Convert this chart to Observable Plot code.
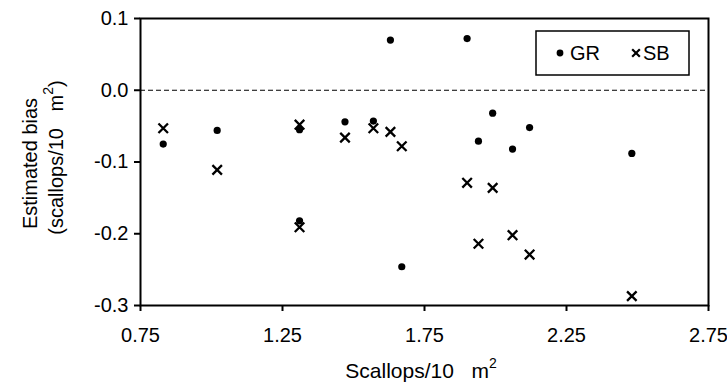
<!DOCTYPE html>
<html>
<head>
<meta charset="utf-8">
<script src="https://cdn.jsdelivr.net/npm/d3@7"></script>
<script src="https://cdn.jsdelivr.net/npm/@observablehq/plot@0.6"></script>
<style>
  html, body { margin: 0; padding: 0; background: #fff; }
  #chart svg text { white-space: pre; }
</style>
</head>
<body>
<div id="chart"></div>
<script>
// Scallop density (scallops / 10 m^2)
const density = [0.83, 1.02, 1.31, 1.31, 1.47, 1.57, 1.63, 1.67, 1.90, 1.94, 1.99, 2.06, 2.12, 2.48];
// Estimated bias, GR series
const grBias = [-0.075, -0.056, -0.055, -0.182, -0.044, -0.043, 0.070, -0.246, 0.072, -0.071, -0.032, -0.082, -0.052, -0.088];
// Estimated bias, SB series
const sbBias = [-0.053, -0.111, -0.048, -0.191, -0.066, -0.053, -0.058, -0.078, -0.129, -0.214, -0.136, -0.202, -0.229, -0.287];
// Tick labels
const xTicks = [0.75, 1.25, 1.75, 2.25, 2.75];
const yTicks = [-0.3, -0.2, -0.1, 0.0, 0.1];
const seriesNames = ["GR", "SB"];

const rows = density.map((d, i) => ({ density: d, gr: grBias[i], sb: sbBias[i] }));

const W = 727, H = 382;
const mL = 140, mR = 19, mT = 18, mB = 77;
const font = "'Liberation Sans', Arial, Helvetica, sans-serif";

const chart = Plot.plot({
  width: W,
  height: H,
  marginLeft: mL,
  marginRight: mR,
  marginTop: mT,
  marginBottom: mB,
  style: { fontFamily: font, fontSize: "20px", background: "#fff", color: "#000", overflow: "visible" },
  x: { domain: [0.75, 2.75], label: null },
  y: { domain: [-0.3, 0.1], label: null },
  marks: [
    Plot.ruleY([0], { stroke: "#000", strokeWidth: 1, strokeDasharray: "5,3" }),
    Plot.axisX({ ticks: xTicks, tickFormat: d => d.toFixed(2), tickSize: 6, tickPadding: 16, strokeWidth: 2, label: null, fontSize: 20 }),
    Plot.axisY({ ticks: yTicks, tickFormat: d => d.toFixed(1), tickSize: 6, tickPadding: 6, strokeWidth: 2, label: null, fontSize: 20 }),
    Plot.frame({ stroke: "#000", strokeWidth: 2 }),
    Plot.dot(rows, { x: "density", y: "gr", r: 3.6, fill: "#000", stroke: null }),
    Plot.dot(rows, { x: "density", y: "sb", symbol: "times", r: 4.4, stroke: "#000", strokeWidth: 2.3 })
  ]
});

document.getElementById("chart").appendChild(chart);

const svg = d3.select(chart);
const cx = mL + (W - mL - mR) / 2;
const cy = mT + (H - mT - mB) / 2;

// X axis title
const xt = svg.append("text")
  .attr("x", cx - 3).attr("y", 378)
  .attr("text-anchor", "middle")
  .attr("font-family", font).attr("font-size", 21).attr("fill", "#000");
xt.append("tspan").text("Scallops/10\u00a0\u00a0\u00a0m");
xt.append("tspan").attr("font-size", 14).attr("dy", -10).text("2");

// Y axis title (two lines, rotated)
const yg = svg.append("g").attr("transform", `translate(0,${cy}) rotate(-90)`);
yg.append("text")
  .attr("x", -2).attr("y", 37)
  .attr("text-anchor", "middle")
  .attr("font-family", font).attr("font-size", 20).attr("fill", "#000")
  .text("Estimated bias");
const yt2 = yg.append("text")
  .attr("x", 4).attr("y", 63)
  .attr("text-anchor", "middle")
  .attr("font-family", font).attr("font-size", 20).attr("fill", "#000");
yt2.append("tspan").text("(scallops/10\u00a0\u00a0\u00a0m");
yt2.append("tspan").attr("font-size", 14).attr("dy", -10).text("2");
yt2.append("tspan").attr("dy", 10).text(")");

// Legend
const lg = svg.append("g").attr("text-anchor", "start");
lg.append("rect").attr("x", 536).attr("y", 31).attr("width", 153).attr("height", 44)
  .attr("fill", "#fff").attr("stroke", "#000").attr("stroke-width", 1.5);
lg.append("circle").attr("cx", 560).attr("cy", 53).attr("r", 3.4).attr("fill", "#000");
lg.append("text").attr("x", 570).attr("y", 60).attr("text-anchor", "start")
  .attr("font-family", font).attr("font-size", 20).attr("fill", "#000").text(seriesNames[0]);
lg.append("path").attr("transform", "translate(636,53)")
  .attr("d", d3.symbol(d3.symbolTimes, 40)())
  .attr("fill", "none").attr("stroke", "#000").attr("stroke-width", 2.2);
lg.append("text").attr("x", 643).attr("y", 60).attr("text-anchor", "start")
  .attr("font-family", font).attr("font-size", 20).attr("fill", "#000").text(seriesNames[1]);
</script>
</body>
</html>
